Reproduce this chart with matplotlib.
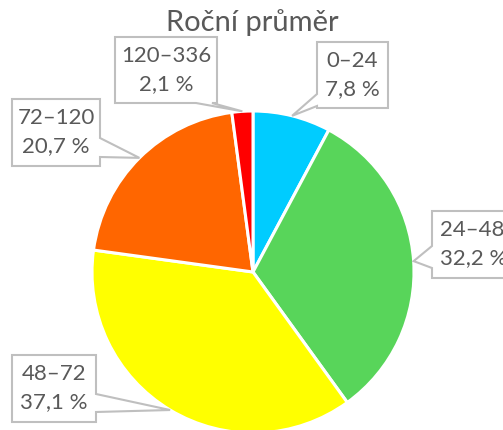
import matplotlib
matplotlib.use("Agg")
import matplotlib.pyplot as plt
import numpy as np
from matplotlib.patches import Polygon

categories = ["0–24", "24–48", "48–72", "72–120", "120–336"]
shares = [7.8, 32.2, 37.1, 20.7, 2.1]
colors = ["#00CCFF", "#58D55A", "#FFFF00", "#FF6600", "#FF0000"]
title = "Roční průměr"

W, H = 503, 430
fig = plt.figure(figsize=(W / 100, H / 100), dpi=100)
ax = fig.add_axes([0, 0, 1, 1])

cx, cy_px, R = 253, 272, 161
cy = H - cy_px

wedges, _ = ax.pie(shares, colors=colors, startangle=90, counterclock=False,
                   radius=R, center=(cx, cy), frame=True,
                   wedgeprops=dict(edgecolor="white", linewidth=2.2))
ax.set_xlim(0, W)
ax.set_ylim(0, H)
ax.set_aspect("equal")
ax.axis("off")

txt_color = "#595959"
edge_color = "#BFBFBF"
font = "Lato"

# layout of label boxes (pixel coords, top-left origin): x0, x1, y0, y1, side, base range
boxes = {
    "0–24": (317, 388, 42, 108, "left", (94, 106)),
    "24–48": (432, 540, 211, 278, "left", (246, 268)),
    "48–72": (12, 96, 355, 422, "right", (394, 412)),
    "72–120": (12, 100, 99, 166, "right", (138, 157)),
    "120–336": (115, 217, 37, 103, "bottom", (196, 212)),
}

cum = np.cumsum([0] + shares)
total = sum(shares)
for i, (cat, val) in enumerate(zip(categories, shares)):
    mid = (cum[i] + val / 2) / total * 2 * np.pi
    tx = cx + R * np.sin(mid)
    ty = cy + R * np.cos(mid)
    x0, x1, y0p, y1p, side, (b0, b1) = boxes[cat]
    y0, y1 = H - y0p, H - y1p
    if side == "left":
        pts = [(x0, y0), (x1, y0), (x1, y1), (x0, y1), (x0, H - b1), (tx, ty), (x0, H - b0)]
    elif side == "right":
        pts = [(x0, y0), (x1, y0), (x1, H - b0), (tx, ty), (x1, H - b1), (x1, y1), (x0, y1)]
    else:
        pts = [(x0, y0), (x1, y0), (x1, y1), (b1, y1), (tx, ty), (b0, y1), (x0, y1)]
    ax.add_patch(Polygon(pts, closed=True, facecolor="white", edgecolor=edge_color,
                         linewidth=1.5, zorder=5, clip_on=False))
    if cat == "24–48":
        xc, ha = x0 + 8, "left"
    else:
        xc, ha = (x0 + x1) / 2, "center"
    ym = (y0 + y1) / 2
    ax.text(xc, ym + 14, cat, ha=ha, va="center", fontsize=16, color=txt_color,
            family=font, zorder=6)
    ax.text(xc, ym - 14, f"{val:.1f}".replace(".", ",") + " %", ha=ha, va="center",
            fontsize=16, color=txt_color, family=font, zorder=6)

ax.text(252, H - 23, title, ha="center", va="center", fontsize=21, color=txt_color,
        family=font)

fig.savefig("out.png", dpi=100)
